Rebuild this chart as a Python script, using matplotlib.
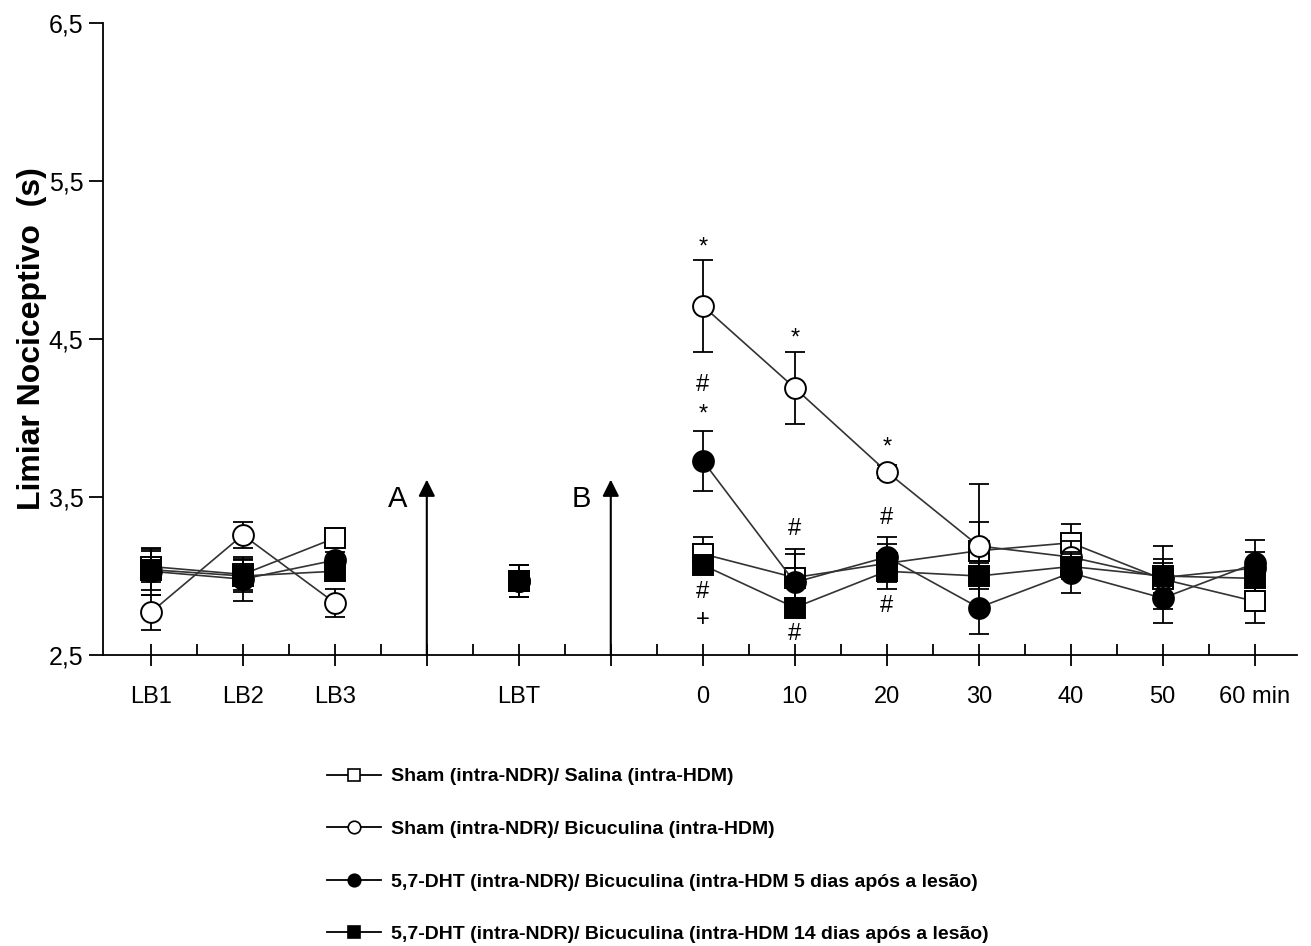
import matplotlib.pyplot as plt
from matplotlib.lines import Line2D

plt.rcParams['font.family'] = ['Liberation Sans', 'DejaVu Sans']

# posições no eixo x: LB1, LB2, LB3, (A), LBT, (B), 0..60 min
x_labels = ['LB1', 'LB2', 'LB3', '', 'LBT', '', '0', '10', '20', '30', '40', '50', '60 min']
x_lb = [0, 1, 2]
x_lbt = [4]
x_time = [6, 7, 8, 9, 10, 11, 12]

nomes = ['Sham (intra-NDR)/ Salina (intra-HDM)',
         'Sham (intra-NDR)/ Bicuculina (intra-HDM)',
         '5,7-DHT (intra-NDR)/ Bicuculina (intra-HDM 5 dias após a lesão)',
         '5,7-DHT (intra-NDR)/ Bicuculina (intra-HDM 14 dias após a lesão)']

# médias
salina_lb = [3.06, 3.01, 3.24]
salina_lbt = [2.97]
salina_t = [3.14, 2.99, 3.08, 3.16, 3.21, 2.98, 2.84]
bicu_lb = [2.77, 3.26, 2.83]
bicu_lbt = [2.97]
bicu_t = [4.71, 4.19, 3.66, 3.19, 3.12, 2.99, 3.05]
dht5_lb = [3.03, 2.98, 3.10]
dht5_lbt = [2.97]
dht5_t = [3.73, 2.96, 3.12, 2.80, 3.02, 2.86, 3.08]
dht14_lb = [3.04, 3.00, 3.03]
dht14_lbt = [2.97]
dht14_t = [3.07, 2.80, 3.03, 3.00, 3.06, 3.00, 2.985]

# erro padrão
salina_lb_e = [0.10, 0.10, 0.05]
salina_lbt_e = [0.10]
salina_t_e = [0.11, 0.18, 0.12, 0.18, 0.12, 0.10, 0.14]
bicu_lb_e = [0.11, 0.08, 0.09]
bicu_lbt_e = [0.10]
bicu_t_e = [0.29, 0.23, 0.04, 0.39, 0.10, 0.20, 0.10]
dht5_lb_e = [0.15, 0.14, 0.05]
dht5_lbt_e = [0.10]
dht5_t_e = [0.19, 0.18, 0.13, 0.17, 0.13, 0.16, 0.15]
dht14_lb_e = [0.13, 0.10, 0.05]
dht14_lbt_e = [0.10]
dht14_t_e = [0.05, 0.05, 0.11, 0.08, 0.08, 0.11, 0.08]

# símbolos de significância (posição x, y, símbolo)
sig_x = [6, 6, 6, 6, 6, 7, 7, 7, 8, 8, 8]
sig_y = [5.08, 4.21, 4.02, 2.90, 2.72, 4.50, 3.30, 2.63, 3.81, 3.37, 2.81]
sig_s = ['*', '#', '*', '#', '+', '*', '#', '#', '*', '#', '#']

series = [
    (salina_lb, salina_lbt, salina_t, salina_lb_e, salina_lbt_e, salina_t_e, 's', 'white'),
    (bicu_lb, bicu_lbt, bicu_t, bicu_lb_e, bicu_lbt_e, bicu_t_e, 'o', 'white'),
    (dht5_lb, dht5_lbt, dht5_t, dht5_lb_e, dht5_lbt_e, dht5_t_e, 'o', 'black'),
    (dht14_lb, dht14_lbt, dht14_t, dht14_lb_e, dht14_lbt_e, dht14_t_e, 's', 'black'),
]

fig = plt.figure(figsize=(13.11, 9.46), dpi=100)
ax = fig.add_axes([103 / 1311, 1 - 655 / 946, (1297 - 103) / 1311, (655 - 23) / 946])

z = 3
for lb, lbt, t, lb_e, lbt_e, t_e, mk, fc in series:
    for xs, ys, es in [(x_lb, lb, lb_e), (x_lbt, lbt, lbt_e), (x_time, t, t_e)]:
        ax.errorbar(xs, ys, yerr=es, fmt='none', ecolor='black', elinewidth=1.3,
                    capsize=7, capthick=1.3, zorder=z)
        ax.plot(xs, ys, color='#333333', lw=1.2, marker=mk, markersize=15,
                markerfacecolor=fc, markeredgecolor='black', markeredgewidth=1.4,
                zorder=z + 0.5)
    z += 1

for xs, ys, s in zip(sig_x, sig_y, sig_s):
    ax.text(xs, ys, s, ha='center', va='center', fontsize=17, zorder=10)

# setas A e B
for xa, lab in [(3, 'A'), (5, 'B')]:
    ax.annotate('', xy=(xa, 3.61), xytext=(xa, 2.5),
                arrowprops=dict(arrowstyle='-|>', color='black', lw=1.5,
                                mutation_scale=25, shrinkA=0, shrinkB=0))
    ax.text(xa - 0.32, 3.49, lab, ha='center', va='center', fontsize=21)

ax.set_xlim(-0.52, 12.46)
ax.set_ylim(2.5, 6.5)
ax.set_xticks(range(len(x_labels)))
ax.set_xticklabels(x_labels, fontsize=17)
ax.set_xticks([i + 0.5 for i in range(12)], minor=True)
ax.tick_params(axis='x', which='major', direction='inout', length=16, width=1.3, pad=14)
ax.tick_params(axis='x', which='minor', direction='in', length=8, width=1.3)
ax.set_yticks([2.5, 3.5, 4.5, 5.5, 6.5])
ax.set_yticklabels(['2,5', '3,5', '4,5', '5,5', '6,5'], fontsize=18)
ax.tick_params(axis='y', direction='out', length=10, width=1.3, pad=4)
ax.spines['top'].set_visible(False)
ax.spines['right'].set_visible(False)
ax.spines['left'].set_linewidth(1.3)
ax.spines['bottom'].set_linewidth(1.3)

ax.set_ylabel('Limiar Nociceptivo  (s)', fontsize=23, fontweight='bold')
ax.yaxis.set_label_coords(-0.047, 0.5)

# legenda
handles = []
for lb, lbt, t, lb_e, lbt_e, t_e, mk, fc in series:
    handles.append(Line2D([], [], color='black', lw=1.3, marker=mk, markersize=9,
                          markerfacecolor=fc, markeredgecolor='black', markeredgewidth=1.2))
fig.legend(handles, nomes, loc='upper left', bbox_to_anchor=(317 / 1311, 1 - 758 / 946),
           frameon=False, handlelength=2.8, handletextpad=0.5, labelspacing=1.8,
           borderpad=0, prop={'family': ['Liberation Sans Narrow', 'Liberation Sans'],
                              'weight': 'bold', 'size': 14})

fig.savefig('out.png', dpi=100)
